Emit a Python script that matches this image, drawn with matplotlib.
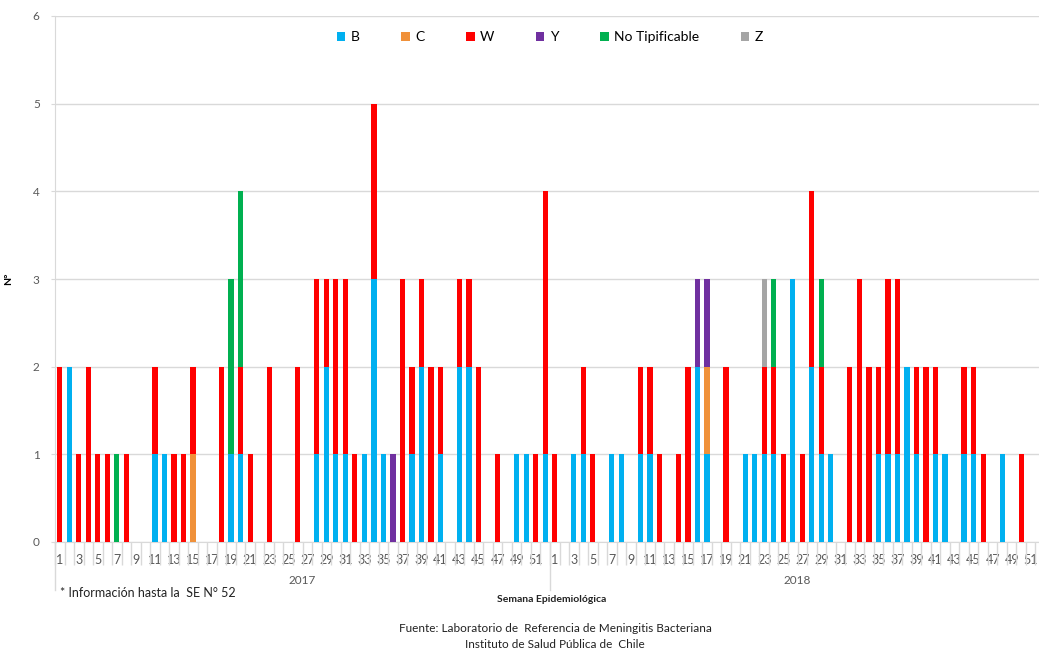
import numpy as np
import matplotlib.pyplot as plt
from matplotlib.lines import Line2D

plt.rcParams['font.family'] = ['Lato', 'DejaVu Sans']

# weeks per year
WEEKS = 52
YEARS = ['2017', '2018']

# cases per serogroup, {week: count}
b_2017 = {2: 2, 11: 1, 12: 1, 19: 1, 20: 1, 28: 1, 29: 2, 30: 1, 31: 1, 33: 1,
          34: 3, 35: 1, 38: 1, 39: 2, 41: 1, 43: 2, 44: 2, 49: 1, 50: 1, 52: 1}
c_2017 = {15: 1}
w_2017 = {1: 2, 3: 1, 4: 2, 5: 1, 6: 1, 8: 1, 11: 1, 13: 1, 14: 1, 15: 1,
          18: 2, 20: 1, 21: 1, 23: 2, 26: 2, 28: 2, 29: 1, 30: 2, 31: 2, 32: 1,
          34: 2, 37: 3, 38: 1, 39: 1, 40: 2, 41: 1, 43: 1, 44: 1, 45: 2, 47: 1,
          51: 1, 52: 3}
y_2017 = {36: 1}
nt_2017 = {7: 1, 19: 2, 20: 2}
z_2017 = {}

b_2018 = {3: 1, 4: 1, 7: 1, 8: 1, 10: 1, 11: 1, 16: 2, 17: 1, 21: 1, 22: 1,
          23: 1, 24: 1, 26: 3, 28: 2, 29: 1, 30: 1, 35: 1, 36: 1, 37: 1, 38: 2,
          39: 1, 41: 1, 42: 1, 44: 1, 45: 1, 48: 1}
c_2018 = {17: 1}
w_2018 = {1: 1, 4: 1, 5: 1, 10: 1, 11: 1, 12: 1, 14: 1, 15: 2, 19: 2, 23: 1,
          24: 1, 25: 1, 27: 1, 28: 2, 29: 1, 32: 2, 33: 3, 34: 2, 35: 1, 36: 2,
          37: 2, 39: 1, 40: 2, 41: 1, 44: 1, 45: 1, 46: 1, 50: 1}
y_2018 = {16: 1, 17: 1}
nt_2018 = {24: 1, 29: 1}
z_2018 = {23: 1}

series = [
    ('B', '#00B0F0', b_2017, b_2018),
    ('C', '#F0913A', c_2017, c_2018),
    ('W', '#FF0000', w_2017, w_2018),
    ('Y', '#7030A0', y_2017, y_2018),
    ('No Tipificable', '#00B050', nt_2017, nt_2018),
    ('Z', '#A5A5A5', z_2017, z_2018),
]


def to_array(d17, d18):
    """weekly counts of both years as one array"""
    arr = np.zeros(2 * WEEKS)
    for wk, n in d17.items():
        arr[wk - 1] = n
    for wk, n in d18.items():
        arr[WEEKS + wk - 1] = n
    return arr


grid_col = '#D9D9D9'
txt_col = '#595959'

fig = plt.figure(figsize=(10.39, 6.52), dpi=100)
ax = fig.add_axes([55 / 1039, 110 / 652, 990 / 1039, 526 / 652])

x = np.arange(2 * WEEKS)
bottom = np.zeros(2 * WEEKS)
for name, col, d17, d18 in series:
    vals = to_array(d17, d18)
    ax.bar(x, vals, width=0.55, bottom=bottom, color=col, label=name, zorder=3)
    bottom += vals

ax.set_xlim(-0.5, 2 * WEEKS - 0.5)
ax.set_ylim(0, 6)
ax.set_yticks(range(0, 7))
ax.yaxis.grid(True, color=grid_col, lw=1, zorder=0)
ax.tick_params(axis='y', colors=grid_col, labelcolor=txt_col, labelsize=8.5,
               length=3, pad=8)

# odd week labels for each year
odd = [w for w in range(1, WEEKS + 1, 2)]
ax.set_xticks([w - 1 for w in odd] + [WEEKS + w - 1 for w in odd])
ax.set_xticklabels([str(w) for w in odd] * 2)
ax.tick_params(axis='x', length=0, labelcolor=txt_col, labelsize=9, pad=9)
ax.set_xticks(np.arange(-0.5, 2 * WEEKS, 1), minor=True)
ax.tick_params(axis='x', which='minor', length=16.5, color=grid_col, width=1)

for side in ['top', 'right']:
    ax.spines[side].set_visible(False)
ax.spines['left'].set_color(grid_col)
ax.spines['bottom'].set_color(grid_col)

# year separators and labels
trans = ax.get_xaxis_transform()
for xs in [-0.5, WEEKS - 0.5]:
    ax.add_line(Line2D([xs, xs], [0, -48 / 526], transform=trans, color=grid_col,
                       lw=1, clip_on=False))
ax.text(WEEKS / 2 - 0.5, -38 / 526, YEARS[0], transform=trans, ha='center',
        va='center', fontsize=8.5, color=txt_col)
ax.text(WEEKS + WEEKS / 2 - 0.5, -38 / 526, YEARS[1], transform=trans, ha='center',
        va='center', fontsize=8.5, color=txt_col)

ax.set_ylabel('N°', fontsize=7.5, fontweight='bold', labelpad=14)

ax.legend(loc='upper center', bbox_to_anchor=(0.5, 0.995), ncol=6, frameon=False,
          fontsize=10, handlelength=0.6, handleheight=0.6, handletextpad=0.4,
          columnspacing=3.0)

fig.text(60 / 1039, 1 - 593 / 652, '* Información hasta la  SE N° 52', fontsize=9,
         va='center', ha='left', color='#222222')
fig.text(552 / 1039, 1 - 599 / 652, 'Semana Epidemiológica', fontsize=7.5,
         fontweight='bold', va='center', ha='center', color='#222222')
fig.text(555 / 1039, 1 - 628 / 652, 'Fuente: Laboratorio de  Referencia de Meningitis Bacteriana',
         fontsize=8.5, va='center', ha='center', color='#222222')
fig.text(555 / 1039, 1 - 644 / 652, 'Instituto de Salud Pública de  Chile',
         fontsize=8.5, va='center', ha='center', color='#222222')

fig.savefig('out.png', dpi=100)
